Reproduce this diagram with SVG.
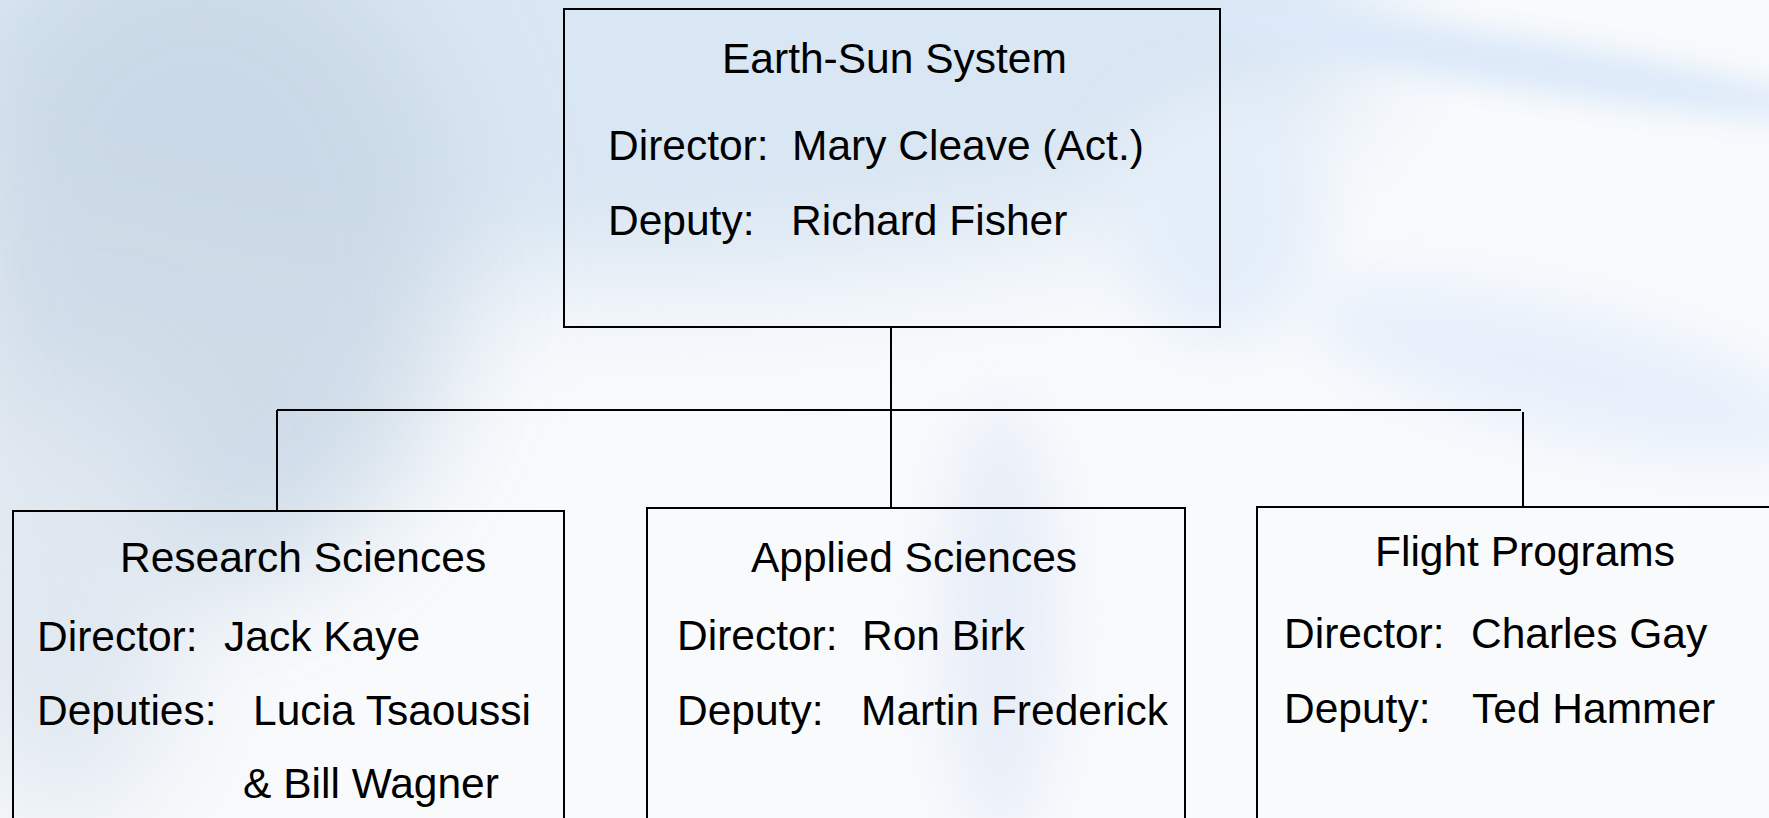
<svg xmlns="http://www.w3.org/2000/svg" width="1769" height="818" viewBox="0 0 1769 818">
<style>
.box{fill:none;stroke:#000;stroke-width:2}
.ln{stroke:#000;stroke-width:2;fill:none}
text{font-family:"Liberation Sans",Arial,sans-serif;font-size:42.5px;fill:#000}
</style>
<defs>
<filter id="b60" x="-50%" y="-50%" width="200%" height="200%"><feGaussianBlur stdDeviation="60"/></filter>
<filter id="b30" x="-50%" y="-50%" width="200%" height="200%"><feGaussianBlur stdDeviation="30"/></filter>
<filter id="b15" x="-50%" y="-50%" width="200%" height="200%"><feGaussianBlur stdDeviation="15"/></filter>
</defs>
<g id="background">
<rect width="1769" height="818" fill="#f8fafc"/>
<ellipse cx="620" cy="20" rx="760" ry="260" fill="#d9e6f3" filter="url(#b60)"/>
<ellipse cx="200" cy="260" rx="260" ry="330" fill="#c8d7e5" filter="url(#b60)" opacity="0.85"/>
<ellipse cx="60" cy="600" rx="120" ry="220" fill="#dfe7f0" filter="url(#b60)"/>
<ellipse cx="1500" cy="60" rx="330" ry="26" fill="#dbe9f9" filter="url(#b15)" transform="rotate(9 1500 60)"/>
<ellipse cx="1560" cy="370" rx="260" ry="60" fill="#e6effb" filter="url(#b30)" transform="rotate(14 1560 370)"/>
<ellipse cx="1220" cy="220" rx="100" ry="120" fill="#e4eef9" filter="url(#b30)"/>
<ellipse cx="1000" cy="620" rx="60" ry="220" fill="#e8eef8" filter="url(#b30)"/>
</g>
<g id="connectors">
<line class="ln" x1="891" y1="327" x2="891" y2="410"/>
<line class="ln" x1="277" y1="410" x2="1521" y2="410"/>
<line class="ln" x1="277" y1="410" x2="277" y2="511"/>
<line class="ln" x1="891" y1="410" x2="891" y2="508"/>
<line class="ln" x1="1523" y1="412" x2="1523" y2="507"/>
</g>
<g id="earth-sun-system">
<rect class="box" x="564" y="9" width="656" height="318"/>
<text x="722" y="73">Earth-Sun System</text>
<text x="608" y="160">Director:</text><text x="792" y="160">Mary Cleave (Act.)</text>
<text x="608" y="235">Deputy:</text><text x="791" y="235">Richard Fisher</text>
</g>
<g id="research-sciences">
<rect class="box" x="13" y="511" width="551" height="330"/>
<text x="120" y="572">Research Sciences</text>
<text x="37" y="651">Director:</text><text x="224" y="651">Jack Kaye</text>
<text x="37" y="725">Deputies:</text><text x="253" y="725">Lucia Tsaoussi</text>
<text x="243" y="798">&amp; Bill Wagner</text>
</g>
<g id="applied-sciences">
<rect class="box" x="647" y="508" width="538" height="330"/>
<text x="751" y="572">Applied Sciences</text>
<text x="677" y="650">Director:</text><text x="862" y="650">Ron Birk</text>
<text x="677" y="725">Deputy:</text><text x="861" y="725">Martin Frederick</text>
</g>
<g id="flight-programs">
<rect class="box" x="1257" y="507" width="530" height="330"/>
<text x="1375" y="566">Flight Programs</text>
<text x="1284" y="648">Director:</text><text x="1471" y="648">Charles Gay</text>
<text x="1284" y="723">Deputy:</text><text x="1472" y="723">Ted Hammer</text>
</g>
</svg>
